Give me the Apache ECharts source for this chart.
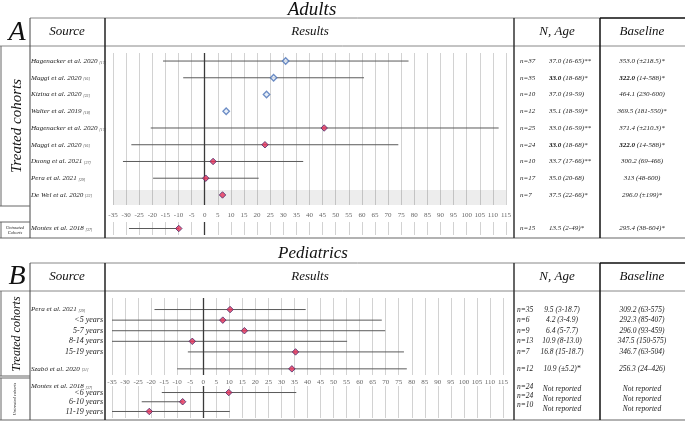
<!DOCTYPE html>
<html>
<head>
<meta charset="utf-8">
<script src="https://cdn.jsdelivr.net/npm/echarts@6/dist/echarts.min.js"></script>
<style>
html, body { margin: 0; padding: 0; background: #fff; }
#main { width: 685px; height: 421px; }
</style>
</head>
<body>
<div id="main"></div>
<script>
// ---- Adults, treated cohorts ----
var adultSource = ['Hagenacker et al. 2020', 'Maggi et al. 2020', 'Kizina et al. 2020', 'Walter et al. 2019',
  'Hagenacker et al. 2020', 'Maggi et al. 2020', 'Duong et al. 2021', 'Pera et al. 2021', 'De Wel et al. 2020'];
var adultRef = ['[17]', '[16]', '[23]', '[18]', '[17]', '[16]', '[27]', '[29]', '[22]'];
var adultEst = [30.9, 26.3, 23.6, 8.2, 45.6, 23.0, 3.2, 0.4, 6.8];
var adultLow = [-15.9, -8.2, null, null, -20.6, -28.0, -31.2, -19.7, null];
var adultHigh = [77.8, 60.8, null, null, 112.2, 73.9, 37.6, 20.6, null];
var adultN = ['n=37', 'n=35', 'n=10', 'n=12', 'n=25', 'n=24', 'n=10', 'n=17', 'n=7'];
var adultAge = ['37.0', '33.0', '37.0', '35.1', '33.0', '33.0', '33.7', '35.0', '37.5'];
var adultAgeRange = ['(16-65)**', '(18-68)*', '(19-59)', '(18-59)*', '(16-59)**', '(18-68)*', '(17-66)**', '(20-68)', '(22-66)*'];
var adultBase = ['353.0', '322.0', '464.1', '369.5', '371.4', '322.0', '300.2', '313', '296.0'];
var adultBaseRange = ['(±218.5)*', '(14-588)*', '(230-600)', '(181-550)*', '(±210.3)*', '(14-588)*', '(69-466)', '(48-600)', '(±199)*'];
var adultBold = [1, 5];

// ---- Adults, untreated cohort ----
var adultUSource = ['Montes et al. 2018'];
var adultURef = ['[37]'];
var adultUEst = [-9.9];
var adultULow = [-28.9];
var adultUHigh = [-9.9];
var adultUN = ['n=15'];
var adultUAge = ['13.5 (2-49)*'];
var adultUBase = ['295.4 (38-604)*'];

// ---- Pediatrics, treated cohorts ----
var pedSource = ['Pera et al. 2021', '<5 years', '5-7 years', '8-14 years', '15-19 years', 'Szabó et al. 2020'];
var pedRef = ['[29]', '', '', '', '', '[31]'];
var pedEst = [10.3, 7.5, 15.8, -4.2, 35.4, 34.0];
var pedLow = [-18.7, -35, -35, -35, -5.9, -10.0];
var pedHigh = [39.3, 68.5, 69.8, 55.2, 77.0, 78.1];
var pedN = ['n=35', 'n=6', 'n=9', 'n=13', 'n=7', 'n=12'];
var pedAge = ['9.5 (3-18.7)', '4.2 (3-4.9)', '6.4 (5-7.7)', '10.9 (8-13.0)', '16.8 (15-18.7)', '10.9 (±5.2)*'];
var pedBase = ['309.2 (63-575)', '292.3 (85-407)', '296.0 (93-459)', '347.5 (150-575)', '346.7 (63-504)', '256.3 (24–426)'];

// ---- Pediatrics, untreated cohort ----
var pedUSource = ['Montes et al. 2018', '<6 years', '6-10 years', '11-19 years'];
var pedURef = ['[37]', '', '', ''];
var pedUEst = [null, 9.8, -7.9, -20.7];
var pedULow = [null, -15.9, -23.6, -35];
var pedUHigh = [null, 35.7, -7.9, 10.2];
var pedUN = ['n=24', 'n=24', 'n=10'];
var pedUAge = ['Not reported', 'Not reported', 'Not reported'];
var pedUBase = ['Not reported', 'Not reported', 'Not reported'];

var xTicks = { min: -35, max: 115, step: 5 };

// row layout (value-axis positions)
var rowA = [0, 1, 2, 3, 4, 5, 6, 7, 8];
var rowAU = [0];
var rowP = [0, 1, 2, 3, 4, 5.6];
var rowPU = [-0.6, 0.05, 1, 2];
var rowPUn = [-0.5, 0.4, 1.3];
var rowPUt = [-0.3, 0.7, 1.75];

var SERIF = 'Liberation Serif';
var chart = echarts.init(document.getElementById('main'));

var grids = [
  { left: 113, top: 53, width: 393, height: 152 },
  { left: 113, top: 222, width: 393, height: 13 },
  { left: 112, top: 298, width: 391, height: 77 },
  { left: 112, top: 386, width: 391, height: 32 }
];
var ranges = [[-0.48, 8.6], [-1, 1], [-1.09, 6.18], [-0.62, 2.67]];

var xAxes = grids.map(function (g, i) {
  return {
    gridIndex: i, type: 'value', min: xTicks.min, max: xTicks.max, interval: xTicks.step,
    axisLine: { show: false }, axisTick: { show: false },
    splitLine: { show: true, lineStyle: { color: '#d2d2d2', width: 1 } },
    axisLabel: { show: i === 0 || i === 2, margin: i === 0 ? 7 : 4, fontFamily: SERIF, fontSize: 7, color: '#666' }
  };
});

var richSrc = {
  s: { fontFamily: SERIF, fontStyle: 'italic', fontSize: 7.1, color: '#222' },
  r: { fontFamily: SERIF, fontStyle: 'italic', fontSize: 3.8, color: '#444', verticalAlign: 'bottom' }
};
var richVal = {
  a: { fontFamily: SERIF, fontStyle: 'italic', fontSize: 7, color: '#222' },
  b: { fontFamily: SERIF, fontWeight: 'bold', fontSize: 7, color: '#111' }
};

var yAxes = [];
function addY(grid, pos, values, texts, margin, align, opts) {
  var lab = {
    customValues: values, margin: margin, align: align,
    fontFamily: SERIF, fontStyle: 'italic', fontSize: 7, color: '#222',
    formatter: function (v) { var k = values.indexOf(v); return k < 0 ? '' : texts[k]; }
  };
  if (opts) for (var key in opts) lab[key] = opts[key];
  yAxes.push({
    gridIndex: grid, type: 'value', position: pos, min: ranges[grid][0], max: ranges[grid][1], inverse: true,
    axisLine: { show: false }, axisTick: { show: false }, splitLine: { show: false }, axisLabel: lab
  });
  return yAxes.length - 1;
}

function srcText(name, ref) { return '{s|' + name + ' }{r|' + ref + '}'; }
function boldText(mean, range, i) {
  return adultBold.indexOf(i) >= 0 ? '{b|' + mean + '} {a|' + range + '}' : '{a|' + mean + ' ' + range + '}';
}

var series = [];
function ciItem(params, api) {
  var a = api.coord([api.value(0), api.value(2)]);
  var b = api.coord([api.value(1), api.value(2)]);
  return { type: 'line', shape: { x1: a[0], y1: a[1], x2: b[0], y2: b[1] }, style: { stroke: '#5a5a5a', lineWidth: 1 } };
}
function addPlot(grid, yIdx, rows, est, low, high, styleFor, extra) {
  var ci = [], pts = [];
  rows.forEach(function (r, i) {
    if (low[i] != null) ci.push([low[i], high[i], r]);
    if (est[i] != null) pts.push({ value: [est[i], r], itemStyle: styleFor(i) });
  });
  series.push({
    type: 'custom', xAxisIndex: grid, yAxisIndex: yIdx, renderItem: ciItem, clip: true,
    encode: { x: [0, 1], y: 2 }, data: ci, silent: true
  });
  var sc = {
    type: 'scatter', xAxisIndex: grid, yAxisIndex: yIdx, symbol: 'diamond', symbolSize: 6.5, data: pts, z: 5,
    markLine: { silent: true, symbol: 'none', label: { show: false }, lineStyle: { color: '#3a3a3a', width: 1.3, type: 'solid' }, data: [{ xAxis: 0 }] }
  };
  if (extra) for (var k in extra) sc[k] = extra[k];
  series.push(sc);
}

var red = { color: '#e8325a', borderColor: '#4a2a6a', borderWidth: 1 };
var blue = { color: '#e4ecf8', borderColor: '#4a72b8', borderWidth: 1.3 };

// Panel A, treated
var a0 = addY(0, 'left', rowA, adultSource.map(function (s, i) { return srcText(s, adultRef[i]); }), 82, 'left', { rich: richSrc });
addY(0, 'right', rowA, adultN, 14, 'left');
addY(0, 'right', rowA, adultAge.map(function (m, i) { return boldText(m, adultAgeRange[i], i); }), 43, 'left', { rich: richVal });
addY(0, 'right', rowA, adultBase.map(function (m, i) { return boldText(m, adultBaseRange[i], i); }), 136, 'center', { rich: richVal });
addPlot(0, a0, rowA, adultEst, adultLow, adultHigh, function (i) { return i < 4 ? blue : red; }, {
  markArea: { silent: true, itemStyle: { color: 'rgba(0,0,0,0.07)' }, data: [[{ yAxis: 7.7 }, { yAxis: 8.6 }]] }
});

// Panel A, untreated
var a1 = addY(1, 'left', rowAU, adultUSource.map(function (s, i) { return srcText(s, adultURef[i]); }), 82, 'left', { rich: richSrc });
addY(1, 'right', rowAU, adultUN, 14, 'left');
addY(1, 'right', rowAU, adultUAge, 43, 'left');
addY(1, 'right', rowAU, adultUBase, 136, 'center');
addPlot(1, a1, rowAU, adultUEst, adultULow, adultUHigh, function () { return red; });

// Panel B, treated
function mainRows(rows, refs) { return rows.filter(function (r, i) { return refs[i] !== ''; }); }
function subRows(rows, refs) { return rows.filter(function (r, i) { return refs[i] === ''; }); }
function mainTexts(src, refs) { return src.map(function (s, i) { return srcText(s, refs[i]); }).filter(function (s, i) { return refs[i] !== ''; }); }
function subTexts(src, refs) { return src.filter(function (s, i) { return refs[i] === ''; }); }

var b0 = addY(2, 'left', mainRows(rowP, pedRef), mainTexts(pedSource, pedRef), 81, 'left', { rich: richSrc });
addY(2, 'left', subRows(rowP, pedRef), subTexts(pedSource, pedRef), 9, 'right', { fontSize: 8 });
addY(2, 'right', rowP, pedN, 14, 'left', { fontSize: 7.5 });
addY(2, 'right', rowP, pedAge, 59, 'center', { fontSize: 7.5 });
addY(2, 'right', rowP, pedBase, 139, 'center', { fontSize: 7.5 });
addPlot(2, b0, rowP, pedEst, pedLow, pedHigh, function () { return red; });

// Panel B, untreated
var b1 = addY(3, 'left', mainRows(rowPU, pedURef), mainTexts(pedUSource, pedURef), 81, 'left', { rich: richSrc });
addY(3, 'left', subRows(rowPU, pedURef), subTexts(pedUSource, pedURef), 9, 'right', { fontSize: 8 });
addY(3, 'right', rowPUn, pedUN, 14, 'left', { fontSize: 7.5 });
addY(3, 'right', rowPUt, pedUAge, 59, 'center', { fontSize: 7.5 });
addY(3, 'right', rowPUt, pedUBase, 139, 'center', { fontSize: 7.5 });
addPlot(3, b1, rowPU, pedUEst, pedULow, pedUHigh, function () { return red; });

// ---- table frame and headings ----
var gfx = [];
function ln(x1, y1, x2, y2, c, w) {
  gfx.push({ type: 'line', silent: true, shape: { x1: x1, y1: y1, x2: x2, y2: y2 }, style: { stroke: c || '#777', lineWidth: w || 1 } });
}
function tx(t, x, y, size, opts) {
  var el = { type: 'text', silent: true, x: x, y: y, style: {
    text: t, fontFamily: SERIF, fontStyle: 'italic', fontSize: size, fill: '#111', align: 'center', verticalAlign: 'middle' } };
  if (opts) for (var k in opts) el[k] = opts[k];
  gfx.push(el);
}
function frame(top, head, bottom, treatBottom, untreatTop) {
  ln(30, top, 685, top, '#888', 1);
  ln(600, top, 685, top, '#222', 1.5);
  ln(0, head, 685, head, '#888', 1);
  ln(0, bottom, 685, bottom, '#666', 1.2);
  ln(30, top, 30, bottom, '#444', 1);
  ln(105, top, 105, bottom, '#222', 1.5);
  ln(514, top, 514, bottom, '#333', 1.5);
  ln(600, top, 600, bottom, '#111', 1.5);
  ln(1, head, 1, treatBottom, '#666', 1);
  ln(0, treatBottom, 30, treatBottom, '#666', 1);
  ln(0, untreatTop, 30, untreatTop, '#666', 1);
  ln(1, untreatTop, 1, bottom, '#666', 1);
  var hy = (top + head) / 2;
  tx('Source', 67, hy, 13);
  tx('Results', 310, hy, 13);
  tx('N, Age', 557, hy, 13);
  tx('Baseline', 642, hy, 13);
}
frame(18, 46, 238, 206, 222);
frame(263, 291, 420, 376, 378);

tx('Adults', 312, 10, 19);
tx('Pediatrics', 313, 254, 17);
tx('A', 17, 33, 28);
tx('B', 17, 277, 28);
tx('Treated cohorts', 17, 126, 15, { rotation: Math.PI / 2 });
tx('Untreated\nCohorts', 15, 230, 4.5, { style: { text: 'Untreated\nCohorts', fontFamily: SERIF, fontStyle: 'italic', fontSize: 4.5, fill: '#222', align: 'center', verticalAlign: 'middle', lineHeight: 5 } });
tx('Treated cohorts', 17, 334, 12, { rotation: Math.PI / 2 });
tx('Untreated cohorts', 15, 399, 4.5, { rotation: Math.PI / 2 });

chart.setOption({
  animation: false,
  grid: grids,
  xAxis: xAxes,
  yAxis: yAxes,
  series: series,
  graphic: gfx
});
</script>
</body>
</html>
